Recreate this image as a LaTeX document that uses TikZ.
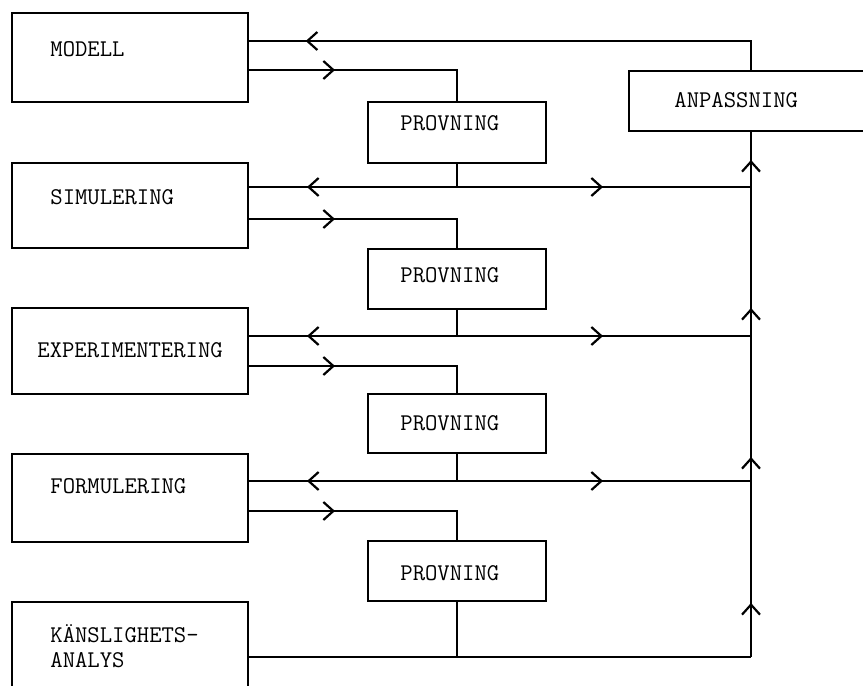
\documentclass[tikz,border=0pt]{standalone}
\usepackage{fontspec}
\usetikzlibrary{arrows.meta}
\usetikzlibrary{decorations.markings}

\tikzset{barbat/.style={postaction={decorate,
  decoration={markings,mark=at position #1 with {\arrow{Straight Barb[length=5pt,width=9pt]}}}}}}

\begin{document}
\begin{tikzpicture}[x=0.5pt,y=-0.5pt]
      \tikzstyle{box}=[draw, rectangle, line width=1.3pt, inner sep=0pt]
      \tikzstyle{lbl}=[inner sep=0pt, anchor=base west, font=\ttfamily\fontsize{12}{14}\selectfont]
      \tikzstyle{wire}=[line width=1.1pt]
      \clip (0,0) rectangle (863,686);

      % left column
      \node[box, minimum width=118pt, minimum height=44.5pt] (modell) at (130,57.5) {};
      \node[box, minimum width=118pt, minimum height=42.5pt] (simul) at (130,205.5) {};
      \node[box, minimum width=118pt, minimum height=43pt] (exper) at (130,351) {};
      \node[box, minimum width=118pt, minimum height=44pt] (formul) at (130,498) {};
      \node[box, minimum width=118pt, minimum height=49pt] (kansl) at (130,651) {};
      \node[lbl] (tmodell) at (50,56) {MODELL};
      \node[lbl] (tsimul) at (50,204) {SIMULERING};
      \node[lbl] (texper) at (37,357) {EXPERIMENTERING};
      \node[lbl] (tformul) at (50,493) {FORMULERING};
      \node[lbl] (tkansla) at (50,642) {KÄNSLIGHETS-};
      \node[lbl] (tkanslb) at (50,667) {ANALYS};

      % provning
      \node[box, minimum width=89pt, minimum height=30.5pt] (prov1) at (457,132.5) {};
      \node[box, minimum width=89pt, minimum height=30pt] (prov2) at (457,279) {};
      \node[box, minimum width=89pt, minimum height=29.5pt] (prov3) at (457,423.5) {};
      \node[box, minimum width=89pt, minimum height=30pt] (prov4) at (457,571) {};
      \node[lbl] (tprov1) at (400,130) {PROVNING};
      \node[lbl] (tprov2) at (400,282) {PROVNING};
      \node[lbl] (tprov3) at (400,430) {PROVNING};
      \node[lbl] (tprov4) at (400,580) {PROVNING};

      \node[box, minimum width=135.5pt, minimum height=30pt] (anp) at (764.5,101) {};
      \node[lbl] (tanp) at (674,107) {ANPASSNING};

      \coordinate (bustop) at (751,41);
      \coordinate (busbot) at (751,657);
      \coordinate (mout) at (248,70);
      \coordinate (sout) at (248,219);
      \coordinate (eout) at (248,366);
      \coordinate (fout) at (248,511);
      \coordinate (j1) at (457,187);
      \coordinate (j2) at (457,336);
      \coordinate (j3) at (457,481);
      \coordinate (j4) at (457,657);

      \draw[wire, barbat=237pt] (anp.north -| bustop) -- (bustop) -- (modell.east |- bustop);

      \draw[wire, barbat=43.5pt] (mout) -| (prov1.north);
      \draw[wire] (prov1.south) -- (j1);
      \draw[wire, barbat=75pt] (j1) -- (simul.east |- j1);
      \draw[wire, barbat=73pt] (j1) -- (j1 -| bustop);

      \draw[wire, barbat=43.5pt] (sout) -| (prov2.north);
      \draw[wire] (prov2.south) -- (j2);
      \draw[wire, barbat=75pt] (j2) -- (exper.east |- j2);
      \draw[wire, barbat=73pt] (j2) -- (j2 -| bustop);

      \draw[wire, barbat=43.5pt] (eout) -| (prov3.north);
      \draw[wire] (prov3.south) -- (j3);
      \draw[wire, barbat=75pt] (j3) -- (formul.east |- j3);
      \draw[wire, barbat=73pt] (j3) -- (j3 -| bustop);

      \draw[wire, barbat=43.5pt] (fout) -| (prov4.north);
      \draw[wire] (prov4.south) -- (j4);
      \draw[wire] (kansl.east |- j4) -- (busbot);

      \draw[wire, barbat=27pt, barbat=100pt, barbat=174.5pt, barbat=248.5pt] (busbot) -- (anp.south -| busbot);
    \end{tikzpicture}
\end{document}
